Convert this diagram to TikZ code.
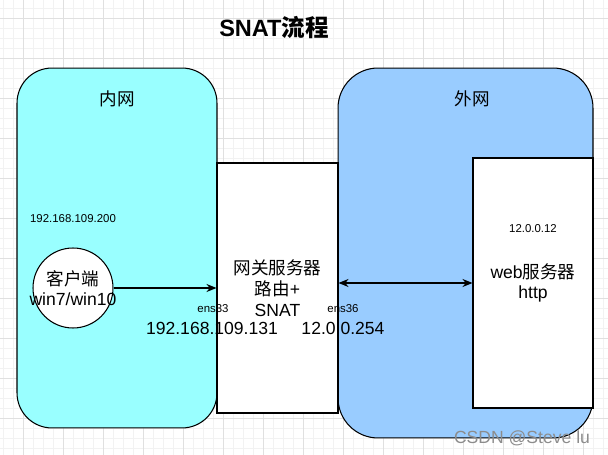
\documentclass[tikz,border=0pt]{standalone}
\usepackage{fontspec}
\setmainfont{Liberation Sans}
\newfontfamily\cjk{Noto Sans CJK SC}
\usetikzlibrary{arrows.meta,positioning}

\definecolor{lancyan}{HTML}{99FFFF}
\definecolor{wanblue}{HTML}{99CCFF}
\definecolor{gridmajor}{HTML}{E0E0E0}
\definecolor{gridminor}{HTML}{F2F2F2}

\begin{document}
\begin{tikzpicture}[
  x=0.02cm, y=-0.02cm,
  line width=0.6pt,
  zone/.style={draw=black, rounded corners=#1, inner sep=0pt},
  box/.style={draw=black, fill=white, inner sep=0pt, align=center,
              font=\fontsize{10}{11.8}\selectfont},
  small/.style={font=\fontsize{6.5}{8}\selectfont},
  body/.style={font=\fontsize{10}{11.8}\selectfont, align=center},
  link/.style={draw=black, line width=0.6pt},
  gridthin/.style={draw=gridminor, line width=0.4pt},
  gridthick/.style={draw=gridmajor, line width=0.5pt},
]
\useasboundingbox (0,0) rectangle (608,455);

% --- background grid ---
\fill[white] (0,0) rectangle (608,455);
\foreach \gx in {3,13,...,603} { \draw[gridthin] (\gx,0) -- (\gx,455); }
\foreach \gy in {8,18,...,448} { \draw[gridthin] (0,\gy) -- (608,\gy); }
\foreach \gx in {23,63,...,583} { \draw[gridthick] (\gx,0) -- (\gx,455); }
\foreach \gy in {18,58,...,418} { \draw[gridthick] (0,\gy) -- (608,\gy); }

% --- title ---
\node[font=\fontsize{13.4}{16}\selectfont\bfseries] (title) at (274,28) {SNAT{\cjk 流程}};

% --- networks ---
\node[zone=0.7cm, fill=lancyan, minimum width=4cm, minimum height=7.2cm] (lan) at (117,248) {};
\node[zone=0.8cm, fill=wanblue, minimum width=5.1cm, minimum height=7.4cm] (wan) at (465.5,253) {};
\node[body] (lanname) at (117,99) {\cjk 内网};
\node[body] (wanname) at (472,99) {\cjk 外网};

% --- hosts ---
\node[box, minimum width=2.42cm, minimum height=5cm] (gw) at (277.5,288)
  {{\cjk 网关服务器}\\{\cjk 路由}+\\SNAT};
\node[box, minimum width=2.4cm, minimum height=5cm] (web) at (533,283)
  {web{\cjk 服务器}\\http};
\node[circle, draw=black, fill=white, minimum size=1.6cm, inner sep=0pt] (client) at (73,288) {};
\node[body] (clienttxt) at (client.center) {{\cjk 客户端}\\win7/win10};

% --- addresses ---
\node[small] (clientip) at (73,219) {192.168.109.200};
\node[small] (ens33) at (213,309) {ens33};
\node[body] (lanip) at (212,328) {192.168.109.131};
\node[small] (ens36) at (343,309) {ens36};
\node[body] (wanip) at (343,328) {12.0.0.254};
\node[small] (webip) at (533,229) {12.0.0.12};

% --- links ---
\draw[link, -{Stealth[length=2mm,width=1.6mm]}] (client.east) -- (client.east -| gw.west);
\draw[link, {Stealth[length=2mm,width=1.6mm]}-{Stealth[length=2mm,width=1.6mm]}]
  (web.west -| gw.east) -- (web.west);

% --- watermark ---
\node[font=\fontsize{10}{12}\selectfont, text=black!45] (mark) at (522,438) {CSDN @Steve lu};

\end{tikzpicture}
\end{document}
